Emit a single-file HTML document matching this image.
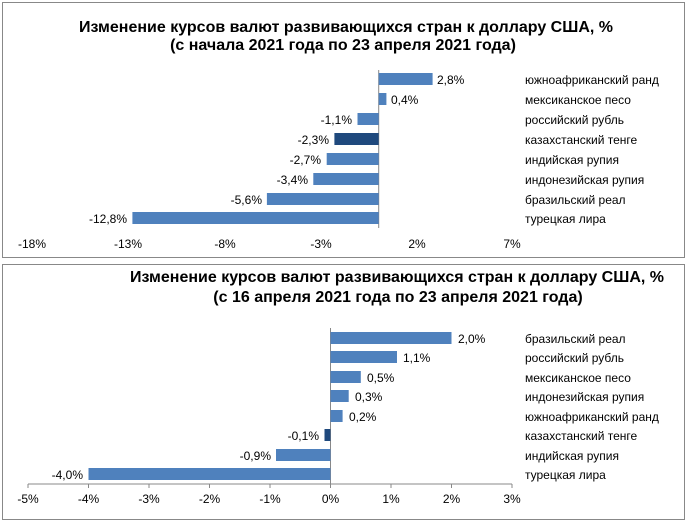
<!DOCTYPE html>
<html><head><meta charset="utf-8"><style>
body{margin:0;background:#fff;width:687px;height:523px;overflow:hidden;font-family:"Liberation Sans",sans-serif;}
svg text{font-family:"Liberation Sans",sans-serif;}
</style></head><body>
<svg width="687" height="523" xmlns="http://www.w3.org/2000/svg">
<rect x="2.5" y="2.5" width="682" height="255" fill="#fff" stroke="#888"/>
<rect x="2.5" y="264.5" width="682" height="255" fill="#fff" stroke="#888"/>
<g font-weight="bold" font-size="16" text-anchor="middle" fill="#000">
<text x="346" y="32">Изменение курсов валют развивающихся стран к доллару США, %</text>
<text x="343" y="50">(с начала 2021 года по 23 апреля 2021 года)</text>
<text x="397" y="282">Изменение курсов валют развивающихся стран к доллару США, %</text>
<text x="398" y="302">(с 16 апреля 2021 года по 23 апреля 2021 года)</text>
</g>
<g font-size="12" fill="#000">
<line x1="378.7" y1="70" x2="378.7" y2="228" stroke="#888"/>
<rect x="378.7" y="73" width="53.9" height="12" fill="#4f81bd"/>
<rect x="378.7" y="93" width="7.7" height="12" fill="#4f81bd"/>
<rect x="357.5" y="113" width="21.2" height="12" fill="#4f81bd"/>
<rect x="334.4" y="133" width="44.3" height="12" fill="#1f497d"/>
<rect x="326.7" y="153" width="52" height="12" fill="#4f81bd"/>
<rect x="313.3" y="173" width="65.4" height="12" fill="#4f81bd"/>
<rect x="266.9" y="193" width="111.8" height="12" fill="#4f81bd"/>
<rect x="132.4" y="212" width="246.3" height="12" fill="#4f81bd"/>
<text x="437" y="84">2,8%</text>
<text x="391" y="104">0,4%</text>
<text x="352" y="124" text-anchor="end">-1,1%</text>
<text x="329" y="144" text-anchor="end">-2,3%</text>
<text x="321" y="164" text-anchor="end">-2,7%</text>
<text x="308" y="184" text-anchor="end">-3,4%</text>
<text x="262" y="204" text-anchor="end">-5,6%</text>
<text x="127" y="223" text-anchor="end">-12,8%</text>
<g>
<text x="525" y="84">южноафриканский ранд</text>
<text x="525" y="104">мексиканское песо</text>
<text x="525" y="124">российский рубль</text>
<text x="525" y="144">казахстанский тенге</text>
<text x="525" y="164">индийская рупия</text>
<text x="525" y="184">индонезийская рупия</text>
<text x="525" y="204">бразильский реал</text>
<text x="525" y="223">турецкая лира</text>
</g>
<g text-anchor="middle">
<text x="32" y="248">-18%</text><text x="128" y="248">-13%</text><text x="225" y="248">-8%</text>
<text x="321" y="248">-3%</text><text x="417" y="248">2%</text><text x="512" y="248">7%</text>
</g>
<line x1="28" y1="484" x2="512" y2="484" stroke="#888"/>
<line x1="330.5" y1="328" x2="330.5" y2="484" stroke="#888"/>
<g stroke="#888">
<line x1="28" y1="484" x2="28" y2="488"/><line x1="88.5" y1="484" x2="88.5" y2="488"/><line x1="149" y1="484" x2="149" y2="488"/><line x1="209.5" y1="484" x2="209.5" y2="488"/><line x1="270" y1="484" x2="270" y2="488"/><line x1="330.5" y1="484" x2="330.5" y2="488"/><line x1="391" y1="484" x2="391" y2="488"/><line x1="451.5" y1="484" x2="451.5" y2="488"/><line x1="512" y1="484" x2="512" y2="488"/>
</g>
<rect x="330.5" y="332" width="121" height="12" fill="#4f81bd"/>
<rect x="330.5" y="351" width="66.5" height="12" fill="#4f81bd"/>
<rect x="330.5" y="371" width="30.3" height="12" fill="#4f81bd"/>
<rect x="330.5" y="390" width="18.2" height="12" fill="#4f81bd"/>
<rect x="330.5" y="410" width="12.1" height="12" fill="#4f81bd"/>
<rect x="324.5" y="429" width="6" height="12" fill="#1f497d"/>
<rect x="276" y="449" width="54.5" height="12" fill="#4f81bd"/>
<rect x="88.5" y="468" width="242" height="12" fill="#4f81bd"/>
<text x="458" y="343">2,0%</text>
<text x="403" y="362">1,1%</text>
<text x="367" y="382">0,5%</text>
<text x="355" y="401">0,3%</text>
<text x="349" y="421">0,2%</text>
<text x="319" y="440" text-anchor="end">-0,1%</text>
<text x="271" y="460" text-anchor="end">-0,9%</text>
<text x="83" y="479" text-anchor="end">-4,0%</text>
<text x="525" y="343">бразильский реал</text>
<text x="525" y="362">российский рубль</text>
<text x="525" y="382">мексиканское песо</text>
<text x="525" y="401">индонезийская рупия</text>
<text x="525" y="421">южноафриканский ранд</text>
<text x="525" y="440">казахстанский тенге</text>
<text x="525" y="460">индийская рупия</text>
<text x="525" y="479">турецкая лира</text>
<g text-anchor="middle">
<text x="28" y="503">-5%</text><text x="88.5" y="503">-4%</text><text x="149" y="503">-3%</text><text x="209.5" y="503">-2%</text><text x="270" y="503">-1%</text><text x="330.5" y="503">0%</text><text x="391" y="503">1%</text><text x="451.5" y="503">2%</text><text x="512" y="503">3%</text>
</g>
</g>
</svg>
</body></html>
